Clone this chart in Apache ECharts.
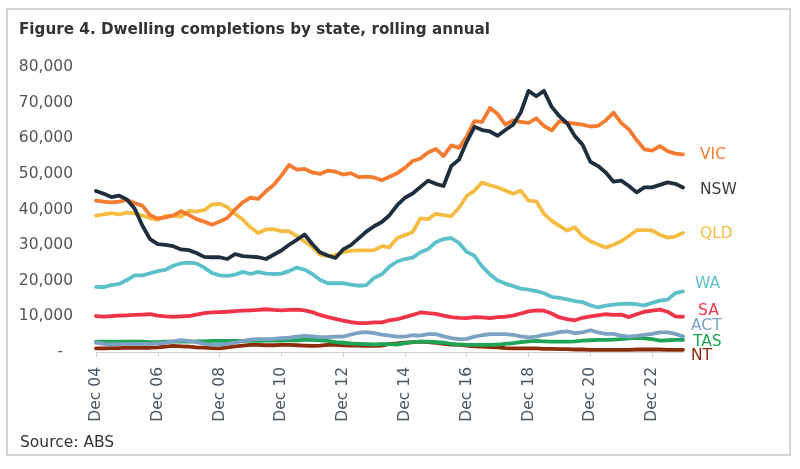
<!DOCTYPE html>
<html>
<head>
<meta charset="utf-8">
<script src="https://cdn.jsdelivr.net/npm/echarts@6/dist/echarts.min.js"></script>
<style>
html,body{margin:0;padding:0;background:#fff;}
#c{width:800px;height:469px;}
</style>
</head>
<body>
<div id="c"></div>
<script>
const categories = [
 'Dec 04','Mar 05','Jun 05','Sep 05','Dec 05','Mar 06','Jun 06','Sep 06',
 'Dec 06','Mar 07','Jun 07','Sep 07','Dec 07','Mar 08','Jun 08','Sep 08',
 'Dec 08','Mar 09','Jun 09','Sep 09','Dec 09','Mar 10','Jun 10','Sep 10',
 'Dec 10','Mar 11','Jun 11','Sep 11','Dec 11','Mar 12','Jun 12','Sep 12',
 'Dec 12','Mar 13','Jun 13','Sep 13','Dec 13','Mar 14','Jun 14','Sep 14',
 'Dec 14','Mar 15','Jun 15','Sep 15','Dec 15','Mar 16','Jun 16','Sep 16',
 'Dec 16','Mar 17','Jun 17','Sep 17','Dec 17','Mar 18','Jun 18','Sep 18',
 'Dec 18','Mar 19','Jun 19','Sep 19','Dec 19','Mar 20','Jun 20','Sep 20',
 'Dec 20','Mar 21','Jun 21','Sep 21','Dec 21','Mar 22','Jun 22','Sep 22',
 'Dec 22','Mar 23','Jun 23','Sep 23','Dec 23'
];

const VIC = [42500,42200,42000,42200,42700,41800,41100,38400,37500,37800,
 38300,39500,38500,37300,36600,35700,36600,37600,40000,42000,
 43300,43000,45100,46900,49500,52500,51200,51400,50400,50000,
 50900,50600,49800,50200,49100,49200,49000,48200,49200,50200,
 51700,53600,54300,56000,57000,55000,58000,57300,60500,64800,
 64600,68500,66800,63800,65000,64600,64300,65600,63500,62200,
 64800,64400,64100,63800,63300,63500,65000,67200,64300,62500,
 59500,56900,56500,57800,56400,55700,55500];

const NSW = [45200,44400,43500,43900,42800,40300,35500,31700,30300,30100,
 29700,28800,28600,27800,26700,26600,26600,26100,27500,26900,
 26800,26600,26100,27300,28500,30100,31500,33000,30300,28000,
 27100,26400,28800,30000,31900,33800,35300,36500,38400,41200,
 43300,44500,46300,48100,47200,46600,52200,54000,59000,63200,
 62300,61900,60700,62300,63800,67300,73300,71800,73300,68800,
 66200,64200,60600,58200,53400,52200,50400,47800,48100,46600,
 44800,46200,46200,46900,47600,47200,46200];

const QLD = [38300,38600,39000,38600,39100,38900,38300,37600,37100,38200,
 38300,38000,39600,39400,39800,41400,41600,40700,38800,37200,
 35000,33400,34400,34500,33900,33900,32500,31000,29500,27300,
 26900,27200,28000,28400,28500,28500,28600,29700,29400,32000,
 32800,33700,37500,37300,38800,38400,38100,40500,43800,45300,
 47600,46800,46200,45300,44400,45300,42500,42300,38800,36800,
 35400,34100,35000,32500,31100,30200,29300,30100,31100,32600,
 34200,34200,34100,32900,32100,32400,33400];

const WA = [18300,18200,18800,19100,20200,21500,21500,22100,22700,23100,
 24200,24900,25100,24900,23700,22200,21500,21400,21700,22500,
 21900,22500,22000,21900,22000,22700,23700,23100,21900,20300,
 19300,19300,19300,18900,18600,18800,20800,21800,24000,25400,
 26100,26500,28000,28900,30800,31700,32000,30600,28100,27000,
 24000,21800,20100,19200,18500,17800,17500,17100,16500,15500,
 15200,14800,14300,14000,13100,12500,13000,13300,13500,13600,
 13400,13100,13800,14400,14700,16500,17000];

const SA = [10100,9900,10100,10200,10300,10400,10500,10600,10200,10000,
 9900,10000,10100,10500,10900,11100,11200,11300,11500,11600,
 11700,11800,12000,11800,11700,11800,11900,11700,11200,10400,
 9800,9300,8800,8400,8100,8100,8300,8300,8900,9200,
 9800,10400,11100,10900,10700,10200,9800,9600,9500,9800,
 9700,9500,9800,9900,10200,10800,11400,11700,11600,10800,
 9700,9200,8900,9600,10000,10300,10600,10400,10500,9800,
 10600,11300,11600,11900,11300,10000,9900];

const ACT = [2600,2300,2100,2200,2300,2300,2300,2300,2400,2600,
 3000,3300,3100,2800,2300,2000,2000,2300,2600,3100,
 3500,3600,3600,3700,3900,4000,4300,4500,4400,4200,
 4200,4300,4300,4900,5400,5600,5300,4900,4600,4300,
 4300,4700,4600,5000,5000,4400,3900,3600,3700,4300,
 4700,5000,5000,5000,4800,4400,4100,4300,4800,5100,
 5600,5800,5300,5500,6100,5500,5100,5100,4600,4300,
 4500,4800,5100,5500,5500,5100,4400];

const TAS = [2900,2900,2900,2900,2900,2900,2900,2800,2800,2900,
 2900,2900,2900,3000,3000,3100,3100,3100,3100,3100,
 3100,3100,3200,3200,3200,3300,3300,3400,3400,3300,
 3100,2800,2600,2400,2300,2200,2100,2200,2200,2100,
 2500,2800,2900,2900,2800,2600,2300,2100,2000,2000,
 2000,2000,2100,2300,2500,2800,3000,3100,3000,2900,
 2900,2900,3000,3200,3300,3400,3400,3500,3600,3800,
 4000,3800,3600,3200,3300,3400,3400];

const NT = [1000,1000,1100,1100,1200,1200,1200,1200,1300,1500,
 1700,1600,1500,1300,1200,1100,1000,1300,1600,1800,
 2000,2000,1900,1900,2000,2000,1900,1800,1700,1800,
 2000,2000,1900,1800,1800,1700,1700,1800,2300,2400,
 2600,2800,2900,2800,2600,2300,2100,2000,1800,1600,
 1500,1400,1300,1100,1000,1000,1000,1000,900,900,
 800,800,700,700,600,600,600,600,600,600,
 700,700,700,700,600,600,600];

const yTicks = [0,10000,20000,30000,40000,50000,60000,70000,80000];

const seriesDefs = [
  {name:'NT',  data:NT,  color:'#8b2c0c', labelColor:'#8b2c0c', offset:[8,6]},
  {name:'TAS', data:TAS, color:'#1ea456', labelColor:'#1ea456', offset:[10,2]},
  {name:'ACT', data:ACT, color:'#7ba2c2', labelColor:'#7ba2c2', offset:[8,-10]},
  {name:'SA',  data:SA,  color:'#ef3449', labelColor:'#ef3449', offset:[15,-6]},
  {name:'WA',  data:WA,  color:'#5cc0cb', labelColor:'#5cc0cb', offset:[12,-7]},
  {name:'QLD', data:QLD, color:'#f5bc43', labelColor:'#f5bc43', offset:[17,1]},
  {name:'VIC', data:VIC, color:'#f47b2f', labelColor:'#f47b2f', offset:[17,1]},
  {name:'NSW', data:NSW, color:'#1f2e3c', labelColor:'#3d3d3d', offset:[17,3]}
];

const FONT = '"DejaVu Sans", "Noto Sans", sans-serif';
const TITLE_FONT = '"DejaVu Sans", "Noto Sans", sans-serif';

const chart = echarts.init(document.getElementById('c'), null, {renderer:'canvas'});
chart.setOption({
  animation:false,
  backgroundColor:'#ffffff',
  textStyle:{fontFamily:FONT},
  title:{
    text:'Figure 4. Dwelling completions by state, rolling annual',
    left:14, top:18,
    textStyle:{fontFamily:TITLE_FONT, fontSize:15.2, fontWeight:'bold', color:'#333333'}
  },
  graphic:[
    {type:'rect', shape:{x:7,y:9,width:783,height:446},
     style:{fill:'none', stroke:'#d4d4d4', lineWidth:2}, silent:true, z:-1},
    {type:'text', left:20, top:435,
     style:{text:'Source: ABS', font:'15.5px '+FONT, fill:'#333333'}}
  ],
  grid:{left:96, right:117, top:67, bottom:117},
  xAxis:{
    type:'category',
    data:categories,
    boundaryGap:false,
    axisLine:{show:true, lineStyle:{color:'#d0d0d0', width:1}},
    axisTick:{show:true, interval:7, length:5, lineStyle:{color:'#d0d0d0'}},
    axisLabel:{interval:7, rotate:90, margin:15, fontSize:15.5, color:'#4a5560', fontFamily:FONT}
  },
  yAxis:{
    type:'value',
    min:yTicks[0], max:yTicks[yTicks.length-1], interval:yTicks[1]-yTicks[0],
    axisLine:{show:false},
    axisTick:{show:false},
    splitLine:{show:false},
    axisLabel:{
      margin:23, fontSize:15.5, color:'#555555', fontFamily:FONT,
      formatter:function(v){ return v===0 ? '-  ' : v.toLocaleString('en-US'); }
    }
  },
  series: seriesDefs.map(function(s){
    return {
      name:s.name, type:'line', data:s.data,
      symbol:'none', smooth:false,
      lineStyle:{color:s.color, width:3.8, join:'round', cap:'round'},
      itemStyle:{color:s.color},
      endLabel:{show:true, formatter:'{a}', color:s.labelColor, fontSize:15.5,
                fontFamily:FONT, distance:0, offset:s.offset}
    };
  })
});
</script>
</body>
</html>
